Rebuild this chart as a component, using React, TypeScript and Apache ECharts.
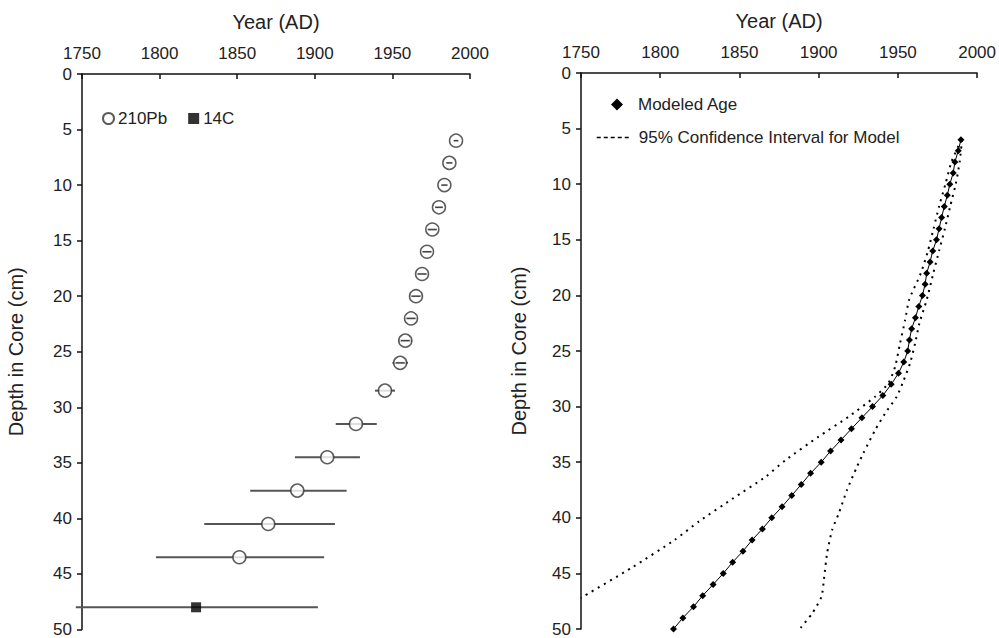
import React, { useEffect, useRef } from "react";
import * as echarts from "echarts";

// ---- Left panel: dated horizons ----
const pbDepth = [6, 8, 10, 12, 14, 16, 18, 20, 22, 24, 26, 28.5, 31.5, 34.5, 37.5, 40.5, 43.5];
const pbYear = [1991, 1986.7, 1983.5, 1980, 1975.7, 1972.3, 1969.1, 1965.2, 1962, 1958.3, 1955, 1945.2, 1926.5, 1908, 1888.7, 1870, 1851.4];
const pbLow = [1989.5, 1984.7, 1981.5, 1977.5, 1972.7, 1969.3, 1965.6, 1961.2, 1958, 1953.8, 1950, 1938.8, 1913.5, 1887.2, 1858.4, 1828.8, 1797.7];
const pbHigh = [1992.5, 1988.7, 1985.5, 1982.5, 1978.7, 1975.3, 1972.6, 1969.2, 1966, 1962.8, 1960, 1951.7, 1939.9, 1929.1, 1920.5, 1913, 1906];

const c14Depth = [48];
const c14Year = [1823.5];
const c14Low = [1746];
const c14High = [1902];

// ---- Right panel: age model ----
const modelDepth = [6, 7, 8, 9, 10, 11, 12, 13, 14, 15, 16, 17, 18, 19, 20, 21, 22, 23, 24, 25, 26, 27, 28, 29, 30, 31, 32, 33, 34, 35, 36, 37, 38, 39, 40, 41, 42, 43, 44, 45, 46, 47, 48, 49, 50];
const modelYear = [1989.8, 1988.1, 1986, 1984.9, 1982.8, 1981.2, 1979.3, 1977.6, 1976, 1974.4, 1972, 1970.3, 1968.2, 1967.2, 1965.5, 1963.2, 1961.1, 1958.7, 1957.3, 1956.2, 1953.7, 1950.4, 1945.8, 1940.5, 1934, 1927.3, 1920.7, 1914.1, 1907.5, 1901.6, 1894.9, 1889, 1883, 1876.9, 1870.4, 1864.5, 1858, 1852.2, 1845.7, 1839.8, 1833.4, 1826.8, 1821, 1814.3, 1808.4];

const ciLowDepth = [6, 8, 10, 12, 14, 16, 18, 20.4, 22.2, 24.3, 26.4, 27.9, 29.1, 30.9, 32.7, 34.8, 36.3, 38.3, 40.3, 42, 44.4, 47.2];
const ciLowYear = [1990, 1983.8, 1980, 1976, 1972.5, 1969, 1964.5, 1957.1, 1954.6, 1951.4, 1948.3, 1944, 1935.7, 1919, 1900, 1879.2, 1866.6, 1845.5, 1824.7, 1809, 1783, 1750];

const ciHighDepth = [6, 8, 10, 12, 14, 16, 18, 20.4, 22.5, 24.3, 26.1, 27.7, 29.1, 30.6, 32.1, 34.2, 35.4, 37.5, 39.6, 41.1, 43.2, 45.6, 47.1, 48.6, 49.9];
const ciHighYear = [1990.5, 1989, 1986.5, 1983, 1979.7, 1976, 1972.4, 1968.2, 1963.6, 1960.9, 1957.7, 1953.5, 1949.3, 1942, 1935.7, 1928.2, 1924.2, 1917.9, 1912.7, 1908.5, 1905.3, 1903.3, 1901.8, 1895.9, 1888.6];

const yearTicks = { min: 1750, max: 2000, interval: 50 };
const depthTicks = { min: 0, max: 50, interval: 5 };

const FONT = "Liberation Sans, Arial, sans-serif";
const CIRCLE_SIZE = 13;
const CI_NAME = "95% Confidence Interval for Model";

function xAxisCfg(gridIndex: number) {
  return {
    type: "value" as const,
    gridIndex,
    position: "top" as const,
    ...yearTicks,
    name: "Year (AD)",
    nameLocation: "middle" as const,
    nameGap: 42,
    nameTextStyle: { fontSize: 20, color: "#222", fontFamily: FONT },
    axisLine: { show: true, lineStyle: { color: "#111", width: 1.5 } },
    axisTick: { show: true, inside: true, length: 5, lineStyle: { color: "#111", width: 1.5 } },
    axisLabel: { fontSize: 17, color: "#222", fontFamily: FONT, margin: 12, formatter: (v: number) => String(v) },
    splitLine: { show: false },
  };
}

function yAxisCfg(gridIndex: number, gap: number) {
  return {
    type: "value" as const,
    gridIndex,
    inverse: true,
    ...depthTicks,
    name: "Depth in Core (cm)",
    nameLocation: "middle" as const,
    nameRotate: 90,
    nameGap: gap,
    nameTextStyle: { fontSize: 20, color: "#222", fontFamily: FONT },
    axisLine: { show: true, lineStyle: { color: "#111", width: 1.5 } },
    axisTick: { show: true, inside: false, length: 5, lineStyle: { color: "#111", width: 1.5 } },
    axisLabel: { fontSize: 17, color: "#222", fontFamily: FONT, margin: 10, formatter: (v: number) => String(v) },
    splitLine: { show: false },
  };
}

function errorBarRender(params: any, api: any) {
  const lo = api.coord([api.value(0), api.value(2)]);
  const hi = api.coord([api.value(1), api.value(2)]);
  return {
    type: "line",
    shape: { x1: lo[0], y1: lo[1], x2: hi[0], y2: hi[1] },
    style: { stroke: "#555", lineWidth: 2 },
  };
}

function innerBarRender(params: any, api: any) {
  const c = api.coord([api.value(0), api.value(3)]);
  const lo = api.coord([api.value(1), api.value(3)]);
  const hi = api.coord([api.value(2), api.value(3)]);
  const r = CIRCLE_SIZE / 2 - 2;
  const half = Math.min((hi[0] - lo[0]) / 2, r);
  if ((hi[0] - lo[0]) / 2 > CIRCLE_SIZE / 2 + 2) return null;
  return {
    type: "line",
    shape: { x1: c[0] - half, y1: c[1], x2: c[0] + half, y2: c[1] },
    style: { stroke: "#444", lineWidth: 1.5 },
  };
}

export default function App() {
  const ref = useRef<HTMLDivElement>(null);

  useEffect(() => {
    document.body.style.margin = "0";
    if (!ref.current) return;
    const chart = echarts.init(ref.current, null, { renderer: "svg" });

    const pbBars = pbDepth.map((d, i) => [pbLow[i], pbHigh[i], d]);
    const pbInner = pbDepth.map((d, i) => [pbYear[i], pbLow[i], pbHigh[i], d]);
    const c14Bars = c14Depth.map((d, i) => [c14Low[i], c14High[i], d]);

    const ciLine = { color: "#000", width: 2, type: [2, 5] as number[] };

    chart.setOption({
      animation: false,
      backgroundColor: "#fff",
      textStyle: { fontFamily: FONT },
      grid: [
        { left: 82, top: 74, width: 388, height: 559 },
        { left: 581, top: 73, width: 398, height: 556 },
      ],
      xAxis: [xAxisCfg(0), xAxisCfg(1)],
      yAxis: [yAxisCfg(0, 56), yAxisCfg(1, 52)],
      legend: [
        {
          data: ["210Pb", "14C"],
          left: 97,
          top: 105,
          orient: "horizontal",
          itemWidth: 11,
          itemHeight: 11,
          itemGap: 21,
          textStyle: { fontSize: 17, color: "#222", fontFamily: FONT, padding: [0, 0, 0, -1] },
        },
        {
          data: [{ name: "Modeled Age", icon: "diamond" }],
          left: 606,
          top: 91,
          orient: "vertical",
          itemWidth: 12,
          itemHeight: 12,
          itemGap: 20,
          textStyle: { fontSize: 17, color: "#222", fontFamily: FONT, padding: [0, 0, 0, 10] },
        },
        {
          data: [{ name: CI_NAME, itemStyle: { opacity: 0 } }],
          left: 591,
          top: 124,
          orient: "vertical",
          itemWidth: 34,
          itemHeight: 12,
          lineStyle: { color: "#000", width: 1.5, type: [4, 3] },
          textStyle: { fontSize: 17, color: "#222", fontFamily: FONT, padding: [0, 0, 0, 3] },
        },
      ],
      series: [
        {
          name: "210Pb-err",
          type: "custom",
          xAxisIndex: 0,
          yAxisIndex: 0,
          renderItem: errorBarRender,
          encode: { x: [0, 1], y: 2 },
          data: pbBars,
          z: 2,
          silent: true,
        },
        {
          name: "14C-err",
          type: "custom",
          xAxisIndex: 0,
          yAxisIndex: 0,
          renderItem: errorBarRender,
          encode: { x: [0, 1], y: 2 },
          data: c14Bars,
          z: 2,
          silent: true,
        },
        {
          name: "210Pb",
          type: "scatter",
          xAxisIndex: 0,
          yAxisIndex: 0,
          symbol: "circle",
          symbolSize: CIRCLE_SIZE,
          itemStyle: { color: "#fff", borderColor: "#333", borderWidth: 1.5 },
          data: pbDepth.map((d, i) => [pbYear[i], d]),
          z: 3,
        },
        {
          name: "210Pb-inner",
          type: "custom",
          xAxisIndex: 0,
          yAxisIndex: 0,
          renderItem: innerBarRender,
          encode: { x: 0, y: 3 },
          data: pbInner,
          z: 4,
          silent: true,
        },
        {
          name: "14C",
          type: "scatter",
          xAxisIndex: 0,
          yAxisIndex: 0,
          symbol: "rect",
          symbolSize: 10,
          itemStyle: { color: "#000" },
          data: c14Depth.map((d, i) => [c14Year[i], d]),
          z: 3,
        },
        {
          name: CI_NAME,
          type: "line",
          xAxisIndex: 1,
          yAxisIndex: 1,
          symbol: "none",
          smooth: 0.2,
          lineStyle: ciLine,
          itemStyle: { color: "#000" },
          data: ciLowDepth.map((d, i) => [ciLowYear[i], d]),
          z: 2,
        },
        {
          name: CI_NAME,
          type: "line",
          xAxisIndex: 1,
          yAxisIndex: 1,
          symbol: "none",
          smooth: 0.2,
          lineStyle: ciLine,
          itemStyle: { color: "#000" },
          data: ciHighDepth.map((d, i) => [ciHighYear[i], d]),
          z: 2,
        },
        {
          name: "Modeled Age",
          type: "line",
          xAxisIndex: 1,
          yAxisIndex: 1,
          symbol: "diamond",
          symbolSize: 7,
          showSymbol: true,
          lineStyle: { color: "#000", width: 1 },
          itemStyle: { color: "#000" },
          data: modelDepth.map((d, i) => [modelYear[i], d]),
          z: 3,
        },
      ],
    });

    return () => chart.dispose();
  }, []);

  return (
    <div
      ref={ref}
      style={{ position: "absolute", left: 0, top: 0, width: 999, height: 638 }}
    />
  );
}
